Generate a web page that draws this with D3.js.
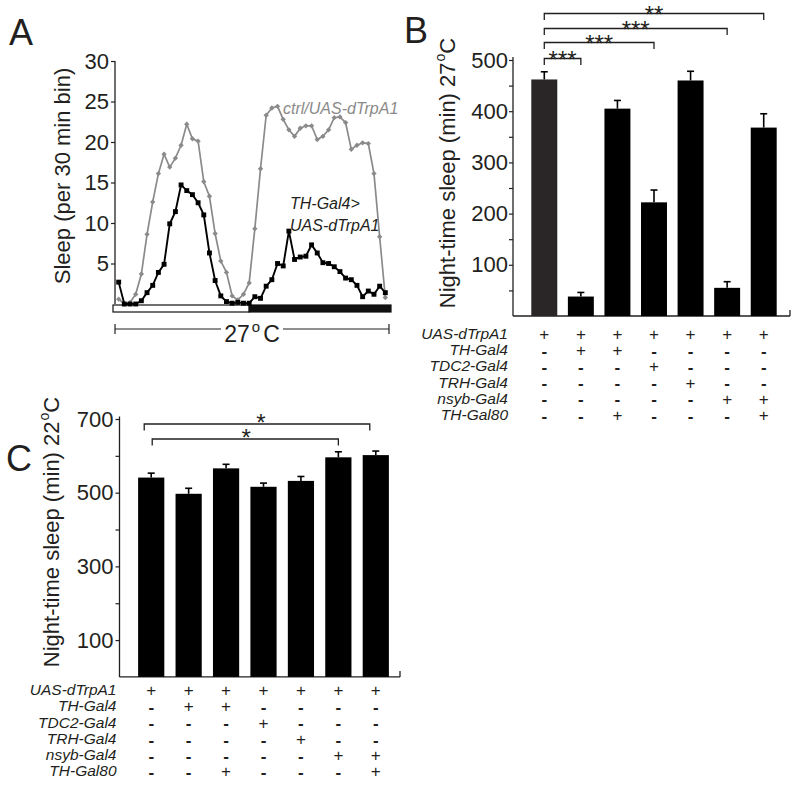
<!DOCTYPE html>
<html><head><meta charset="utf-8">
<script src="https://cdn.jsdelivr.net/npm/d3@7"></script>
<style>body{margin:0;background:#fff;} svg{display:block;font-family:"Liberation Sans",Arial,Helvetica,sans-serif;}</style>
</head><body><svg id="c" width="800" height="785"></svg>
<script>
// ---------- DATA ----------
// Panel A: sleep per 30-min bin (48 bins, 24 h) at 27 C
const ctrlSleep = [0.6,0,0.2,1.2,3.7,8.6,12.6,16.1,18.5,16.9,18.0,19.6,22.2,20.4,20.1,15.1,13.3,8.7,5.3,3.9,1.0,0.5,1.2,2.6,
                   9.3,16.7,23.3,24.2,24.4,22.8,21.5,20.7,21.7,22.0,22.0,20.3,20.7,21.5,23.0,23.1,22.4,19.1,19.6,19.9,19.8,16.1,8.3,0.8];
const thSleep   = [2.7,0,0,0,0.4,1.4,2.3,3.9,4.9,9.9,11.4,14.7,14.0,13.5,12.5,11.0,6.3,2.9,1.0,0.3,0.1,0.2,0.1,0.1,
                   0.9,0.7,2.2,3.0,5.0,4.7,9.0,5.5,5.8,5.9,7.3,6.3,5.1,5.0,4.6,4.0,3.2,3.0,2.3,0.9,1.6,1.2,2.2,1.4];
const aTicks = [5,10,15,20,25,30];
const lightDark = [{phase:"light", start:-1, end:23}, {phase:"dark", start:23, end:48}];
const seriesNames = ["ctrl/UAS-dTrpA1", "TH-Gal4>", "UAS-dTrpA1"];

// Panel B: night-time sleep at 27 C
const genotypes = ["g1","g2","g3","g4","g5","g6","g7"];
const night27 = [462, 38, 405, 222, 460, 55, 368];
const night27Err = [15, 8, 16, 24, 18, 12, 27];
const bTicks = [50,100,150,200,250,300,350,400,450,500];
const bTickLabels = [100,200,300,400,500];
const bSig = [{from:0,to:1,label:"***"},{from:0,to:3,label:"***"},{from:0,to:5,label:"***"},{from:0,to:6,label:"**"}];

// Panel C: night-time sleep at 22 C
const night22 = [541, 497, 566, 516, 532, 596, 602];
const night22Err = [12, 15, 11, 10, 12, 15, 11];
const cTicks = [100,200,300,400,500,600,700];
const cTickLabels = [100,300,500,700];
const cSig = [{from:0,to:6,label:"*"},{from:0,to:5,label:"*"}];

// Genotype table
const rowLabels = ["UAS-dTrpA1","TH-Gal4","TDC2-Gal4","TRH-Gal4","nsyb-Gal4","TH-Gal80"];
const genoTable = [
  ["+","+","+","+","+","+","+"],
  ["-","+","+","-","-","-","-"],
  ["-","-","-","+","-","-","-"],
  ["-","-","-","-","+","-","-"],
  ["-","-","-","-","-","+","+"],
  ["-","-","+","-","-","-","+"]
];

// ---------- DRAW ----------
const ink = "#231f20";
const FONT = '"Liberation Sans",Arial,Helvetica,sans-serif';
const svg = d3.select("#c");

function styleAxis(g, fs){
  g.attr("font-family", FONT);
  g.select(".domain").remove();
  g.selectAll(".tick line").attr("stroke", ink).attr("stroke-width", 1.2);
  g.selectAll(".tick text").attr("font-size", fs).attr("fill", ink);
}

// Panel letters
svg.append("text").attr("x",9).attr("y",45).attr("font-size",36).attr("fill",ink).text("A");
svg.append("text").attr("x",404).attr("y",43).attr("font-size",36).attr("fill",ink).text("B");
svg.append("text").attr("x",6).attr("y",471).attr("font-size",36).attr("fill",ink).text("C");

// ===== Panel A =====
const xA = d3.scaleLinear().domain([-1,48]).range([113,391]);
const yA = d3.scaleLinear().domain([0,30]).range([304,61]);
const gA = svg.append("g");
gA.append("g").attr("transform","translate(115,0)")
  .call(d3.axisLeft(yA).tickValues(aTicks).tickSize(4).tickPadding(2).tickSizeOuter(0))
  .call(g=>styleAxis(g,22));
gA.append("line").attr("x1",115).attr("x2",115).attr("y1",yA(30)).attr("y2",yA(0))
  .attr("stroke",ink).attr("stroke-width",1.3);
gA.append("text").attr("transform","translate(70,176) rotate(-90)").attr("text-anchor","middle")
  .attr("font-size",22).attr("fill",ink).text("Sleep (per 30 min bin)");

// light/dark bar
gA.selectAll("rect.ld").data(lightDark).join("rect").attr("class","ld")
  .attr("x",d=>xA(d.start)).attr("width",d=>xA(d.end)-xA(d.start))
  .attr("y",305).attr("height",7)
  .attr("fill",d=>d.phase==="light"?"#fff":"#111").attr("stroke","#111").attr("stroke-width",1.2);

const lineA = d3.line().x((d,i)=>xA(i)).y(d=>yA(d));
gA.append("path").datum(ctrlSleep).attr("d",lineA).attr("fill","none").attr("stroke","#8a8a8a").attr("stroke-width",1.7);
gA.selectAll("path.dm").data(ctrlSleep).join("path").attr("class","dm")
  .attr("transform",(d,i)=>`translate(${xA(i)},${yA(d)})`)
  .attr("d",d3.symbol(d3.symbolDiamond2,18)).attr("fill","#8a8a8a");
gA.append("path").datum(thSleep).attr("d",lineA).attr("fill","none").attr("stroke","#000").attr("stroke-width",1.9);
gA.selectAll("path.sq").data(thSleep).join("path").attr("class","sq")
  .attr("transform",(d,i)=>`translate(${xA(i)},${yA(d)})`)
  .attr("d",d3.symbol(d3.symbolSquare,24)).attr("fill","#000");

gA.append("text").attr("x",283).attr("y",114).attr("font-size",16).attr("font-style","italic")
  .attr("fill","#8a8a8a").text(seriesNames[0]);
gA.append("text").attr("x",290).attr("y",209).attr("font-size",16).attr("font-style","italic")
  .attr("fill",ink).text(seriesNames[1]);
gA.append("text").attr("x",290).attr("y",231).attr("font-size",16).attr("font-style","italic")
  .attr("fill",ink).text(seriesNames[2]);

// 27 C span
const spanY = 329;
gA.append("line").attr("x1",115).attr("x2",221).attr("y1",spanY).attr("y2",spanY).attr("stroke",ink).attr("stroke-width",1.2);
gA.append("line").attr("x1",283).attr("x2",389).attr("y1",spanY).attr("y2",spanY).attr("stroke",ink).attr("stroke-width",1.2);
[115,389].forEach(x=>gA.append("line").attr("x1",x).attr("x2",x).attr("y1",spanY-5).attr("y2",spanY+5).attr("stroke",ink).attr("stroke-width",1.2));
const tA = gA.append("text").attr("x",252).attr("y",342).attr("text-anchor","middle").attr("font-size",23).attr("fill",ink);
tA.append("tspan").text("27");
tA.append("tspan").text("o").attr("font-size",15).attr("dy",-10).attr("dx",2);
tA.append("tspan").text("C").attr("dy",10).attr("dx",3);

// ===== Bar panel helper =====
function barPanel(opt){
  const g = svg.append("g");
  const x = opt.x, y = opt.y;
  g.append("g").attr("transform",`translate(${opt.axisX},0)`)
    .call(d3.axisLeft(y).tickValues(opt.ticks).tickSize(4).tickPadding(opt.pad)
      .tickFormat(d=>opt.labels.includes(d)?d:""))
    .call(gg=>styleAxis(gg,22));
  g.append("line").attr("x1",opt.axisX).attr("x2",opt.axisX).attr("y1",y(0)).attr("y2",opt.axisTop)
    .attr("stroke",ink).attr("stroke-width",1.3);
  g.append("line").attr("x1",opt.axisX).attr("x2",opt.axisRight).attr("y1",y(0)).attr("y2",y(0))
    .attr("stroke",ink).attr("stroke-width",1.3);
  g.append("line").attr("x1",opt.axisRight).attr("x2",opt.axisRight).attr("y1",y(0)).attr("y2",y(0)-6)
    .attr("stroke",ink).attr("stroke-width",1.3);
  const bw = x.bandwidth();
  g.selectAll("rect.bar").data(opt.values).join("rect").attr("class","bar")
    .attr("x",(d,i)=>x(genotypes[i])).attr("width",bw)
    .attr("y",d=>y(d)).attr("height",d=>y(0)-y(d))
    .attr("fill",(d,i)=>opt.firstColor && i===0 ? opt.firstColor : "#000");
  const cx = i => x(genotypes[i]) + bw/2;
  opt.values.forEach((v,i)=>{
    g.append("line").attr("x1",cx(i)).attr("x2",cx(i)).attr("y1",y(v)).attr("y2",y(v+opt.err[i]))
      .attr("stroke","#000").attr("stroke-width",1.6);
    g.append("line").attr("x1",cx(i)-3.5).attr("x2",cx(i)+3.5).attr("y1",y(v+opt.err[i])).attr("y2",y(v+opt.err[i]))
      .attr("stroke","#000").attr("stroke-width",1.6);
  });
  // significance brackets
  opt.sig.forEach((s,k)=>{
    const ly = opt.sigY[k];
    const x1 = cx(s.from)+opt.sigOff[k][0], x2 = cx(s.to)+opt.sigOff[k][1];
    g.append("path").attr("d",`M${x1},${ly+6.5}V${ly}H${x2}V${ly+6.5}`)
      .attr("fill","none").attr("stroke",ink).attr("stroke-width",1.3);
    g.append("text").attr("x",(x1+x2)/2 + (opt.sigDx?opt.sigDx[k]:0)).attr("y",ly+opt.sigBase).attr("text-anchor","middle")
      .attr("font-size",24).attr("fill",ink).text(s.label);
  });
  // y label
  const yl = g.append("text").attr("transform",`translate(${opt.labelX},${opt.labelY}) rotate(-90)`)
    .attr("text-anchor","middle").attr("font-size",22).attr("fill",ink);
  yl.append("tspan").text("Night-time sleep (min) " + opt.temp);
  yl.append("tspan").text("o").attr("font-size",14).attr("dy",-10).attr("dx",1);
  yl.append("tspan").text("C").attr("dy",10);
  // genotype table
  rowLabels.forEach((lab,r)=>{
    const ry = opt.rowY0 + r*opt.rowStep;
    g.append("text").attr("x",opt.rowLabelX).attr("y",ry).attr("dy","0.35em").attr("text-anchor","end")
      .attr("font-size",15.5).attr("font-style","italic").attr("fill",ink).text(lab);
    genoTable[r].forEach((sym,i)=>{
      g.append("text").attr("x",cx(i)).attr("y",ry).attr("dy", sym==="+" ? "0.38em" : "0.42em").attr("text-anchor","middle")
        .attr("font-size",17).attr("font-weight", sym==="-" ? "bold" : "normal").attr("fill",ink).text(sym);
    });
  });
}

// ===== Panel B =====
barPanel({
  x: d3.scaleBand().domain(genotypes).range([526,782]).paddingInner(0.29).paddingOuter(0.145),
  y: d3.scaleLinear().domain([0,500]).range([316,60]),
  axisX: 513, axisTop: 57, axisRight: 790, pad: 1,
  ticks: bTicks, labels: bTickLabels,
  values: night27, err: night27Err, firstColor: "#2a2526",
  sig: bSig, sigY: [58.5, 42.5, 28.5, 13.5], sigOff: [[0,0],[0,0],[0,0],[0,0]], sigBase: 9,
  labelX: 455, labelY: 173, temp: "27",
  rowY0: 333.5, rowStep: 16.2, rowLabelX: 508
});

// ===== Panel C =====
barPanel({
  x: d3.scaleBand().domain(genotypes).range([132.5,394.5]).paddingInner(0.3).paddingOuter(0.15),
  y: d3.scaleLinear().domain([0,700]).range([676.9,419]),
  axisX: 119.5, axisTop: 416.5, axisRight: 400, pad: 2,
  ticks: cTicks, labels: cTickLabels,
  values: night22, err: night22Err,
  sig: cSig, sigY: [424, 439], sigOff: [[-7,-6],[1,0]], sigDx: [4, 1], sigBase: 7,
  labelX: 59, labelY: 532, temp: "22",
  rowY0: 689.5, rowStep: 16.3, rowLabelX: 116.5
});
</script></body></html>
